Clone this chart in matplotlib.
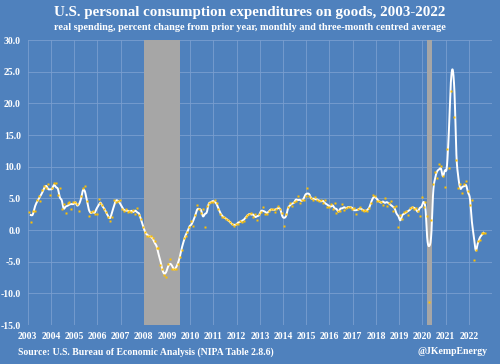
import numpy as np
import pandas as pd
import matplotlib
matplotlib.use("Agg")
import matplotlib.pyplot as plt

# monthly real goods PCE, % change y/y, Jan 2003 - Sep 2022
y2003 = [2.8, 1.3, 3.0, 3.0, 4.7, 5.3, 4.6, 6.3, 7.0, 6.7, 7.2, 5.5]
y2004 = [6.6, 7.4, 7.4, 5.5, 6.6, 3.4, 4.1, 2.7, 4.3, 4.5, 3.3, 4.5]
y2005 = [4.5, 4.1, 3.0, 5.3, 6.7, 6.9, 4.6, 2.2, 2.9, 3.0, 2.6, 2.6]
y2006 = [4.9, 4.2, 3.9, 3.3, 2.9, 2.1, 1.5, 2.1, 4.8, 4.5, 4.6, 4.8]
y2007 = [3.4, 3.0, 3.3, 2.9, 3.0, 2.9, 3.2, 2.5, 3.5, 2.4, 1.8, 0.5]
y2008 = [-0.3, -0.9, -0.9, -1.0, -1.3, -1.8, -2.9, -2.9, -5.5, -6.2, -7.1, -7.4]
y2009 = [-5.3, -4.5, -6.2, -6.2, -6.2, -5.4, -4.2, -3.2, -1.3, -0.9, -0.3, 0.5]
y2010 = [1.5, 0.6, 2.4, 3.9, 3.4, 2.7, 3.3, 0.5, 3.8, 4.2, 4.5, 4.4]
y2011 = [4.8, 4.2, 3.4, 2.6, 2.1, 2.0, 1.8, 1.6, 1.2, 1.0, 0.6, 0.9]
y2012 = [1.0, 1.5, 1.3, 1.5, 2.0, 2.4, 2.5, 2.7, 2.1, 2.5, 1.6, 2.5]
y2013 = [2.9, 3.6, 2.6, 2.5, 3.0, 3.3, 3.4, 2.9, 3.3, 3.8, 3.3, 2.7]
y2014 = [0.6, 2.5, 3.7, 4.2, 3.8, 4.5, 4.6, 5.3, 4.3, 4.7, 4.8, 5.4]
y2015 = [6.6, 5.3, 5.0, 4.7, 5.2, 4.7, 4.6, 4.7, 4.3, 4.8, 3.7, 3.7]
y2016 = [4.1, 3.3, 4.3, 2.7, 3.0, 3.0, 4.1, 3.2, 3.5, 3.7, 3.7, 3.4]
y2017 = [3.5, 2.6, 3.3, 3.7, 3.2, 3.0, 3.1, 3.0, 3.5, 4.3, 5.6, 5.4]
y2018 = [4.6, 4.6, 4.4, 4.0, 5.1, 3.8, 4.3, 4.6, 3.0, 3.6, 3.8, 0.5]
y2019 = [2.3, 1.8, 2.9, 3.0, 2.4, 3.5, 3.7, 3.4, 3.5, 3.0, 2.2, 5.2]
y2020 = [3.7, 4.4, 2.2, -11.3, 1.6, 7.3, 9.1, 8.2, 10.4, 10.1, 8.6, 6.8]
y2021 = [12.8, 9.8, 21.9, 36.3, 17.9, 11.1, 6.6, 7.3, 5.8, 7.3, 7.7, 6.2]
y2022 = [3.9, 4.8, -4.7, -3.1, -1.8, -1.6, -0.4, -0.4, -0.5]

monthly = (y2003 + y2004 + y2005 + y2006 + y2007 + y2008 + y2009 + y2010 + y2011
           + y2012 + y2013 + y2014 + y2015 + y2016 + y2017 + y2018 + y2019 + y2020
           + y2021 + y2022)
years = list(range(2003, 2023))
recessions = [(2008.0, 2009.55), (2020.2, 2020.43)]

s = pd.Series(monthly, dtype=float)
avg = s.rolling(3, center=True).mean()
t = 2003 + (np.arange(len(s)) + 0.6) / 12


def smooth(x, y, n=8):
    # catmull-rom through the points, like a spreadsheet "smoothed line"
    x = np.asarray(x); y = np.asarray(y)
    px = np.concatenate([[x[0]], x, [x[-1]]])
    py = np.concatenate([[y[0]], y, [y[-1]]])
    xs, ys = [], []
    u = np.linspace(0, 1, n, endpoint=False)
    for k in range(1, len(px) - 2):
        for p, out in ((px, xs), (py, ys)):
            p0, p1, p2, p3 = p[k - 1], p[k], p[k + 1], p[k + 2]
            out.append(0.5 * (2 * p1 + (-p0 + p2) * u + (2 * p0 - 5 * p1 + 4 * p2 - p3) * u ** 2
                              + (-p0 + 3 * p1 - 3 * p2 + p3) * u ** 3))
    xs.append([x[-1]]); ys.append([y[-1]])
    return np.concatenate(xs), np.concatenate(ys)


bg = "#4F81BD"
serif = "Liberation Serif"

fig = plt.figure(figsize=(5, 3.64), dpi=100, facecolor=bg)
ax = fig.add_axes([0.0554, 0.107, 0.9286, 0.783], facecolor=bg)

for a, b in recessions:
    ax.axvspan(a, b, color="#A6A6A6", lw=0, zorder=1)

ok = avg.notna().values
lx, ly = smooth(t[ok], avg.values[ok])
ax.plot(lx, ly, color="white", lw=1.4, zorder=3)
ax.plot(t, s.values, ls="none", marker="s", ms=2.1, color="#FFC000", mec="none", zorder=4)

ax.set_xlim(2003, 2023)
ax.set_ylim(-15, 30)
ax.set_xticks(years)
ax.set_xticklabels([str(y) for y in years])
ax.set_yticks(np.arange(-15, 31, 5))
ax.set_yticklabels([f"{v:.1f}" for v in np.arange(-15, 31, 5)])
ax.grid(True, color="#7A9ED0", lw=0.6, zorder=0)
ax.set_axisbelow(True)
for sp in ax.spines.values():
    sp.set_visible(False)
ax.tick_params(length=0, colors="white", pad=5)
for lab in ax.get_xticklabels() + ax.get_yticklabels():
    lab.set_fontfamily(serif)
    lab.set_fontweight("bold")
    lab.set_fontsize(7)

fig.text(0.5, 0.965, "U.S. personal consumption expenditures on goods, 2003-2022",
         ha="center", va="center", color="white", fontsize=10.8, fontweight="bold", family=serif)
fig.text(0.5, 0.925, "real spending, percent change from prior year, monthly and three-month centred average",
         ha="center", va="center", color="white", fontsize=7.4, fontweight="bold", family=serif)
fig.text(0.036, 0.033, "Source: U.S. Bureau of Economic Analysis (NIPA Table 2.8.6)",
         ha="left", va="center", color="white", fontsize=7, fontweight="bold", family=serif)
fig.text(0.974, 0.033, "@JKempEnergy",
         ha="right", va="center", color="white", fontsize=7, fontweight="bold", family=serif)

plt.savefig("out.png", dpi=100, facecolor=bg)
